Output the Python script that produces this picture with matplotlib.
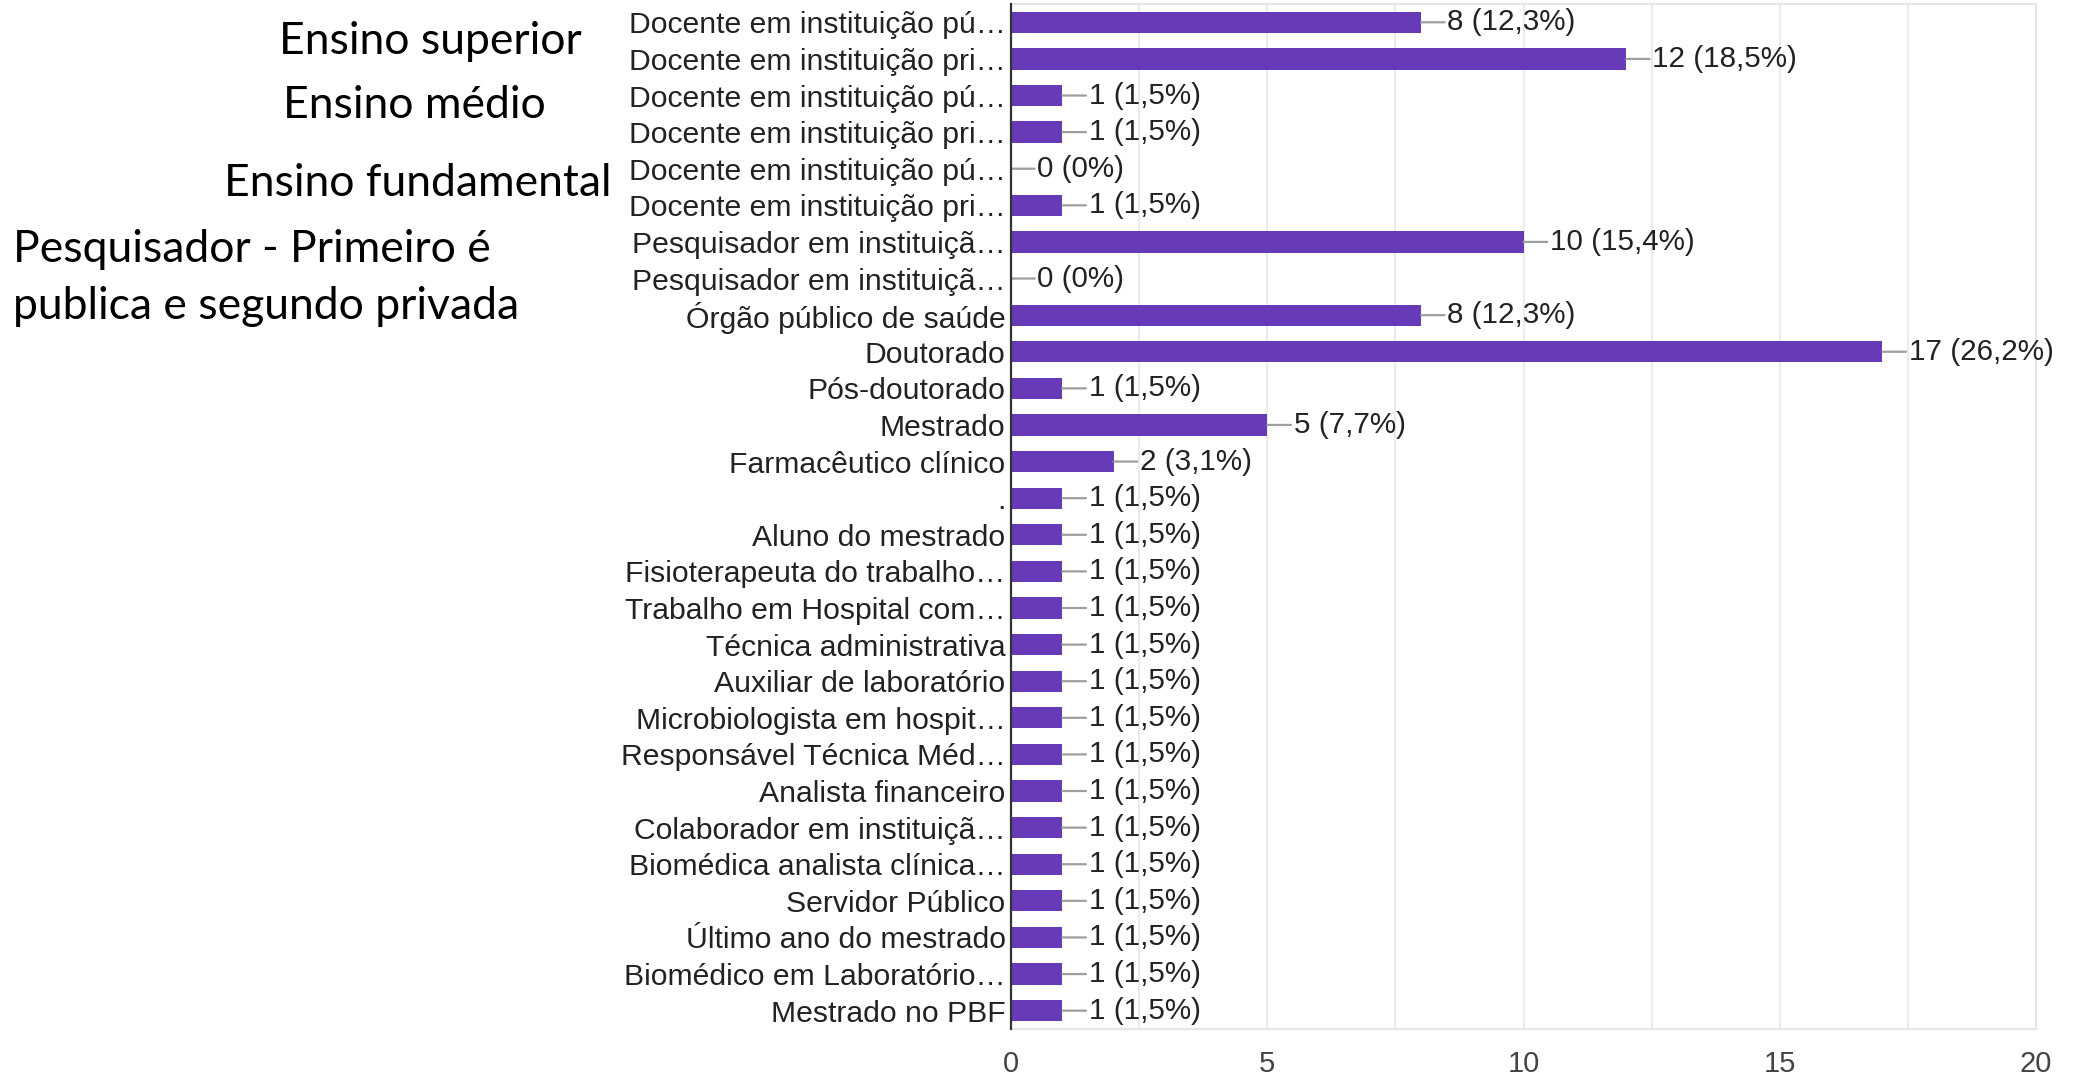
import matplotlib
matplotlib.use("Agg")
import matplotlib.pyplot as plt
from matplotlib.ticker import MultipleLocator

categorias = [
    "Docente em instituição pú…",
    "Docente em instituição pri…",
    "Docente em instituição pú…",
    "Docente em instituição pri…",
    "Docente em instituição pú…",
    "Docente em instituição pri…",
    "Pesquisador em instituiçã…",
    "Pesquisador em instituiçã…",
    "Órgão público de saúde",
    "Doutorado",
    "Pós-doutorado",
    "Mestrado",
    "Farmacêutico clínico",
    ".",
    "Aluno do mestrado",
    "Fisioterapeuta do trabalho…",
    "Trabalho em Hospital com…",
    "Técnica administrativa",
    "Auxiliar de laboratório",
    "Microbiologista em hospit…",
    "Responsável Técnica Méd…",
    "Analista financeiro",
    "Colaborador em instituiçã…",
    "Biomédica analista clínica…",
    "Servidor Público",
    "Último ano do mestrado",
    "Biomédico em Laboratório…",
    "Mestrado no PBF",
]
valores = [8, 12, 1, 1, 0, 1, 10, 0, 8, 17, 1, 5, 2, 1, 1, 1, 1, 1, 1, 1, 1, 1, 1, 1, 1, 1, 1, 1]
percentuais = ["12,3%", "18,5%", "1,5%", "1,5%", "0%", "1,5%", "15,4%", "0%", "12,3%",
               "26,2%", "1,5%", "7,7%", "3,1%", "1,5%", "1,5%", "1,5%", "1,5%", "1,5%",
               "1,5%", "1,5%", "1,5%", "1,5%", "1,5%", "1,5%", "1,5%", "1,5%", "1,5%", "1,5%"]
xticks = [0, 5, 10, 15, 20]

# notas escritas a esquerda do grafico
notas = ["Ensino superior", "Ensino médio", "Ensino fundamental",
         "Pesquisador - Primeiro é\npublica e segundo privada"]

plt.rcParams['font.family'] = ['Liberation Sans', 'DejaVu Sans']

fig = plt.figure(figsize=(20.74, 10.77), dpi=100)
ax = fig.add_axes([0.4875, 0.0446, 0.4942, 0.9517])

pos = list(range(len(categorias)))
ax.barh(pos, valores, height=0.58, color='#673ab7', zorder=3)

for p, v, pct in zip(pos, valores, percentuais):
    ax.annotate(f"{v} ({pct})", xy=(v, p), xytext=(19, 0), textcoords='offset points',
                ha='left', va='center', fontsize=21.3, color='#222222',
                arrowprops=dict(arrowstyle='-', color='#9e9e9e', lw=1.6,
                                shrinkA=0, shrinkB=0, relpos=(0, 0.5)))

ax.set_ylim(len(categorias) - 0.5, -0.5)
ax.set_xlim(0, 20)
ax.set_yticks(pos)
ax.set_yticklabels(categorias, fontsize=21.7, color='#222222')
ax.set_xticks(xticks)
ax.set_xticklabels([str(t) for t in xticks], fontsize=21, color='#444444')
ax.xaxis.set_minor_locator(MultipleLocator(2.5))
ax.tick_params(axis='both', which='both', length=0)
ax.tick_params(axis='x', pad=15)
ax.tick_params(axis='y', pad=4)
ax.grid(axis='x', which='both', color='#ebebeb', lw=1.5, zorder=0)

for s in ['top', 'right', 'bottom']:
    ax.spines[s].set_color('#e6e6e6')
    ax.spines[s].set_linewidth(1.5)
ax.spines['left'].set_color('#333333')
ax.spines['left'].set_linewidth(1.6)
ax.spines['left'].set_zorder(4)

# anotacoes (coordenadas em pixels da figura)
fs_nota = 32
fig.text(582 / 2074, 1 - 41 / 1077, notas[0], ha='right', va='center', fontsize=fs_nota, family='Lato')
fig.text(283 / 2074, 1 - 106 / 1077, notas[1], ha='left', va='center', fontsize=fs_nota, family='Lato')
fig.text(612 / 2074, 1 - 184 / 1077, notas[2], ha='right', va='center', fontsize=fs_nota, family='Lato')
fig.text(13 / 2074, 1 - 278 / 1077, notas[3], ha='left', va='center', fontsize=fs_nota,
         family='Lato', linespacing=1.5)

fig.savefig('out.png', dpi=100, facecolor='white')
